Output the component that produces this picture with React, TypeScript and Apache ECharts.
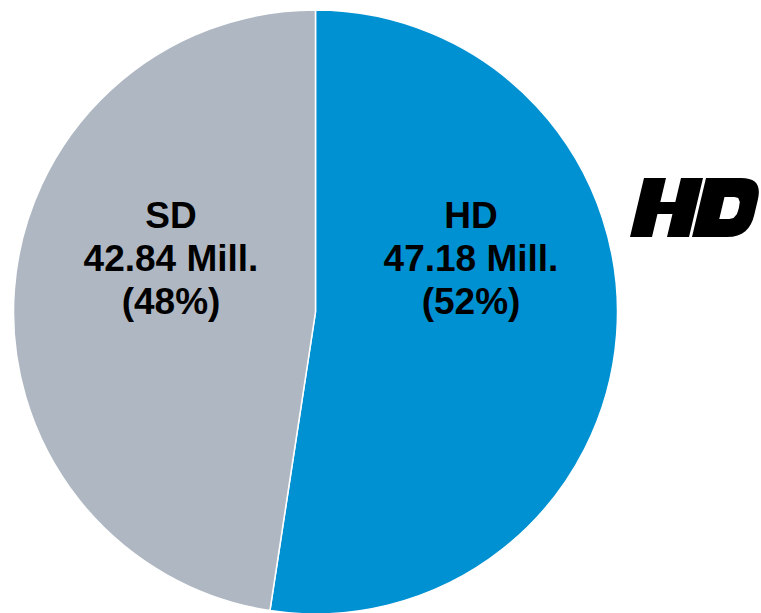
import React, { useEffect, useRef } from "react";
import * as echarts from "echarts";

const categories = ["HD", "SD"];
const values = [47.18, 42.84];
const unit = "Mill.";
const colors = ["#0091D2", "#AFB8C2"];
const labelCenters = [
  [471, 258],
  [171, 258],
];

// Upright HD logo outline, skewed below to italic form
const sk = (x: number, y: number) => [x + 0.2373 * (59 - y), y];
const s = (x: number, y: number) => sk(x, y).map((v) => v.toFixed(2)).join(",");
const logoPath = [
  // H
  `M${s(0, 0)} L${s(22, 0)} L${s(22, 24)} L${s(37, 24)} L${s(37, 0)} L${s(59, 0)} L${s(59, 59)} L${s(37, 59)} L${s(37, 36)} L${s(22, 36)} L${s(22, 59)} L${s(0, 59)} Z`,
  // D outer
  `M${s(62, 0)} L${s(97, 0)} C${s(113, 0)} ${s(119, 8)} ${s(119, 22)} L${s(119, 37)} C${s(119, 51)} ${s(113, 59)} ${s(97, 59)} L${s(62, 59)} Z`,
].join(" ");
const counterPoints = [
  sk(85, 19), sk(95, 19), sk(99, 20), sk(101.5, 24), sk(102, 30),
  sk(101.5, 36), sk(99, 40), sk(95, 41), sk(85, 41),
];

echarts.graphic.registerShape("hdlogo", echarts.graphic.extendPath(logoPath, {}));

export default function App() {
  const ref = useRef<HTMLDivElement>(null);
  useEffect(() => {
    if (!ref.current) return;
    const chart = echarts.init(ref.current, undefined, { renderer: "svg" });
    const total = values.reduce((a, b) => a + b, 0);
    const texts = categories.map((c, i) => ({
      type: "text",
      x: labelCenters[i][0],
      y: labelCenters[i][1],
      z: 100,
      silent: true,
      style: {
        text: `${c}\n${values[i].toFixed(2)} ${unit}\n(${Math.round((values[i] / total) * 100)}%)`,
        fill: "#000",
        font: "bold 37px 'Liberation Sans', Arial, sans-serif",
        lineHeight: 43,
        align: "center",
        verticalAlign: "middle",
      },
    }));
    chart.setOption({
      animation: false,
      backgroundColor: "#fff",
      series: [
        {
          type: "pie",
          center: [315.5, 312],
          radius: 302,
          startAngle: 90,
          clockwise: true,
          silent: true,
          z: 1,
          label: { show: false },
          labelLine: { show: false },
          itemStyle: { borderColor: "#fff", borderWidth: 1.5 },
          emphasis: { disabled: true },
          data: categories.map((c, i) => ({
            name: c,
            value: values[i],
            itemStyle: { color: colors[i] },
          })),
        },
      ],
      graphic: {
        elements: [
          ...texts,
          {
            type: "hdlogo",
            x: 630,
            y: 178,
            z: 100,
            silent: true,
            style: { fill: "#000" },
          },
          {
            type: "polygon",
            x: 630,
            y: 178,
            z: 110,
            silent: true,
            shape: { points: counterPoints },
            style: { fill: "#fff" },
          },
        ],
      },
    } as any);
    return () => chart.dispose();
  }, []);
  return (
    <div
      ref={ref}
      style={{ position: "fixed", left: 0, top: 0, width: 761, height: 613 }}
    />
  );
}
